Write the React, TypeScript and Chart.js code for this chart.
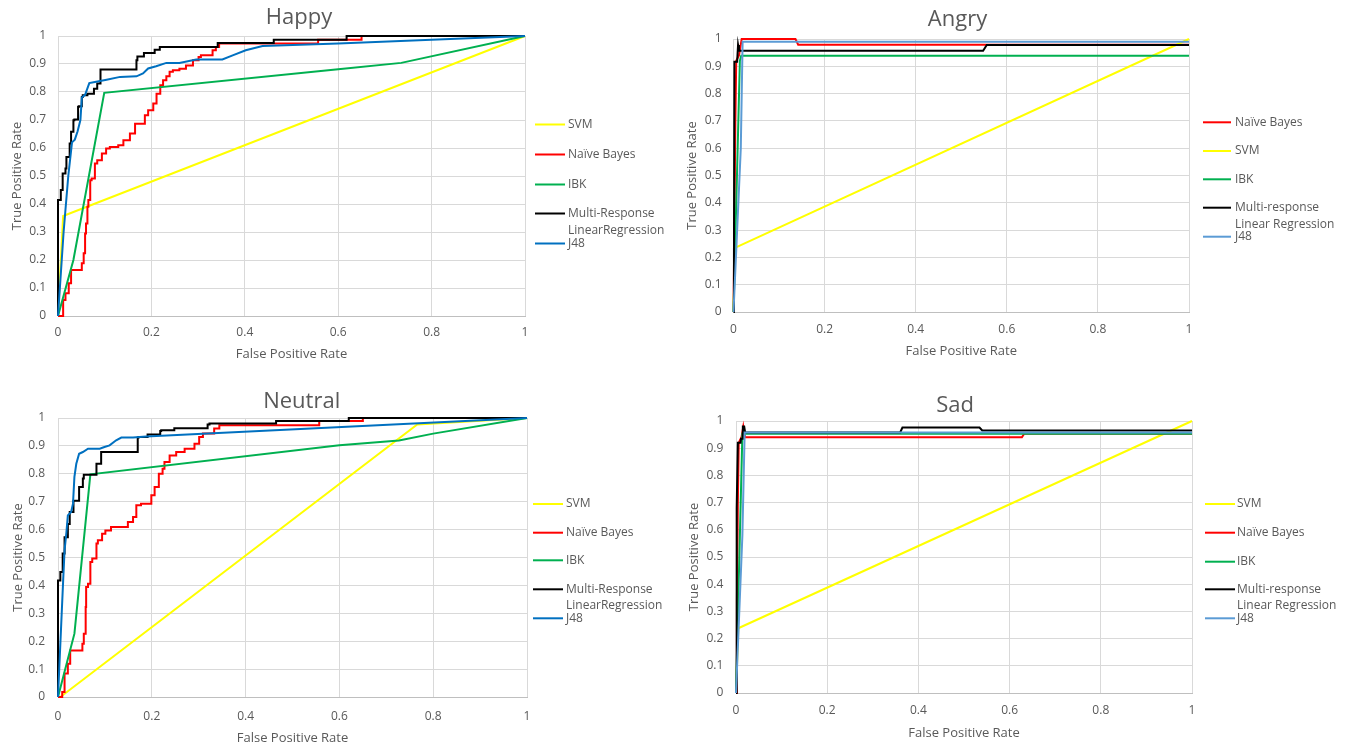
import React, { useEffect, useRef } from "react";
import { Chart, registerables } from "chart.js";
Chart.register(...registerables);

type Pt = [number, number];

const FAMILY = "'Open Sans', 'Liberation Sans', sans-serif";
const TEXT = "#595959";

// ---------- tick labels ----------
const X_TICK_STEP = 0.2;
const Y_TICK_STEP = 0.1;
const X_TITLE = "False Positive Rate";
const Y_TITLE = "True Positive Rate";

// ---------- Happy ----------
const happySvm: Pt[] = [[0, 0], [0.011, 0.357], [1, 1]];
const happyNb: Pt[] = [[0, 0], [0.011, 0], [0.016, 0.057], [0.023, 0.081], [0.028, 0.117], [0.035, 0.164], [0.051, 0.164], [0.055, 0.188], [0.058, 0.224], [0.06, 0.295], [0.063, 0.33], [0.065, 0.39], [0.069, 0.414], [0.072, 0.485], [0.079, 0.491], [0.084, 0.545], [0.094, 0.556], [0.103, 0.58], [0.111, 0.598], [0.129, 0.604], [0.14, 0.61], [0.154, 0.628], [0.165, 0.652], [0.175, 0.687], [0.186, 0.687], [0.193, 0.717], [0.204, 0.735], [0.211, 0.759], [0.219, 0.794], [0.225, 0.824], [0.232, 0.842], [0.239, 0.856], [0.246, 0.872], [0.26, 0.878], [0.274, 0.883], [0.289, 0.895], [0.301, 0.913], [0.306, 0.925], [0.331, 0.931], [0.338, 0.949], [0.345, 0.961], [0.354, 0.973], [0.557, 0.973], [0.557, 0.987], [0.65, 0.987], [0.65, 1], [1, 1]];
const happyIbk: Pt[] = [[0, 0], [0.033, 0.2], [0.099, 0.797], [0.6, 0.881], [0.735, 0.904], [1, 1]];
const happyMr: Pt[] = [[0, 0], [0.001, 0.414], [0.006, 0.414], [0.006, 0.45], [0.01, 0.45], [0.01, 0.509], [0.016, 0.509], [0.016, 0.527], [0.018, 0.527], [0.018, 0.568], [0.025, 0.568], [0.028, 0.616], [0.033, 0.658], [0.035, 0.699], [0.043, 0.702], [0.045, 0.747], [0.051, 0.749], [0.053, 0.782], [0.063, 0.788], [0.069, 0.794], [0.077, 0.794], [0.079, 0.812], [0.084, 0.812], [0.087, 0.83], [0.091, 0.83], [0.094, 0.88], [0.168, 0.88], [0.17, 0.913], [0.174, 0.927], [0.184, 0.927], [0.187, 0.939], [0.207, 0.939], [0.218, 0.951], [0.246, 0.961], [0.342, 0.961], [0.342, 0.975], [0.462, 0.975], [0.462, 0.987], [0.618, 0.987], [0.618, 1], [1, 1]];
const happyJ48: Pt[] = [[0, 0], [0.012, 0.3], [0.022, 0.5], [0.03, 0.62], [0.036, 0.63], [0.042, 0.66], [0.048, 0.7], [0.051, 0.78], [0.058, 0.79], [0.067, 0.832], [0.079, 0.836], [0.104, 0.844], [0.133, 0.854], [0.168, 0.856], [0.182, 0.866], [0.193, 0.884], [0.21, 0.892], [0.232, 0.904], [0.26, 0.904], [0.296, 0.916], [0.352, 0.916], [0.374, 0.931], [0.402, 0.949], [0.438, 0.964], [0.6, 0.973], [1, 1]];

// ---------- Angry ----------
const angryNb: Pt[] = [[0, 0], [0.002, 0.33], [0.004, 0.69], [0.006, 0.92], [0.012, 0.94], [0.018, 1], [0.136, 1], [0.142, 0.979], [1, 0.979]];
const angrySvm: Pt[] = [[0, 0], [0.003, 0.235], [1, 1]];
const angryIbk: Pt[] = [[0, 0], [0.014, 0.92], [0.017, 0.939], [1, 0.939]];
const angryMr: Pt[] = [[0, 0], [0.001, 0.2], [0.002, 0.917], [0.008, 0.917], [0.01, 0.978], [0.012, 0.957], [0.548, 0.957], [0.556, 0.978], [1, 0.978]];
const angryJ48: Pt[] = [[0, 0], [0.016, 0.6], [0.02, 0.99], [1, 0.99]];

// ---------- Neutral ----------
const neutralSvm: Pt[] = [[0.005, 0], [0.766, 0.977], [1, 1]];
const neutralNb: Pt[] = [[0, 0], [0.009, 0], [0.014, 0.018], [0.021, 0.084], [0.026, 0.119], [0.032, 0.167], [0.052, 0.167], [0.055, 0.191], [0.059, 0.227], [0.06, 0.323], [0.064, 0.394], [0.069, 0.406], [0.073, 0.484], [0.082, 0.496], [0.085, 0.55], [0.094, 0.562], [0.101, 0.585], [0.113, 0.597], [0.149, 0.609], [0.16, 0.627], [0.167, 0.645], [0.177, 0.687], [0.199, 0.693], [0.206, 0.723], [0.215, 0.753], [0.223, 0.8], [0.227, 0.818], [0.238, 0.842], [0.252, 0.866], [0.27, 0.878], [0.291, 0.89], [0.301, 0.908], [0.309, 0.932], [0.333, 0.944], [0.344, 0.962], [0.352, 0.974], [0.557, 0.974], [0.557, 0.989], [0.65, 0.989], [0.65, 1], [1, 1]];
const neutralIbk: Pt[] = [[0, 0], [0.035, 0.227], [0.069, 0.798], [0.6, 0.902], [0.727, 0.919], [0.8, 0.944], [1, 1]];
const neutralMr: Pt[] = [[0, 0], [0.001, 0.418], [0.005, 0.418], [0.005, 0.448], [0.01, 0.448], [0.01, 0.514], [0.014, 0.514], [0.014, 0.573], [0.021, 0.573], [0.025, 0.62], [0.028, 0.663], [0.033, 0.663], [0.038, 0.703], [0.045, 0.703], [0.046, 0.753], [0.053, 0.753], [0.055, 0.783], [0.062, 0.797], [0.082, 0.797], [0.087, 0.836], [0.092, 0.836], [0.096, 0.878], [0.17, 0.878], [0.172, 0.93], [0.191, 0.932], [0.193, 0.941], [0.218, 0.941], [0.22, 0.953], [0.248, 0.956], [0.25, 0.963], [0.319, 0.963], [0.323, 0.977], [0.465, 0.98], [0.467, 0.989], [0.62, 0.989], [0.622, 1], [1, 1]];
const neutralJ48: Pt[] = [[0, 0], [0.011, 0.418], [0.014, 0.526], [0.018, 0.591], [0.021, 0.651], [0.028, 0.663], [0.032, 0.693], [0.035, 0.789], [0.039, 0.836], [0.045, 0.872], [0.053, 0.878], [0.064, 0.89], [0.089, 0.89], [0.099, 0.896], [0.11, 0.902], [0.124, 0.92], [0.135, 0.93], [0.16, 0.93], [0.188, 0.934], [1, 1]];

// ---------- Sad ----------
const sadSvm: Pt[] = [[0, 0], [0.005, 0.238], [1, 1]];
const sadNb: Pt[] = [[0, 0], [0.002, 0.336], [0.004, 0.69], [0.006, 0.92], [0.012, 0.94], [0.016, 0.98], [0.02, 0.94], [0.627, 0.94], [0.632, 0.953], [1, 0.953]];
const sadIbk: Pt[] = [[0, 0], [0.014, 0.953], [1, 0.953]];
const sadMr: Pt[] = [[0, 0], [0.001, 0.2], [0.002, 0.68], [0.004, 0.92], [0.01, 0.92], [0.011, 0.935], [0.014, 0.935], [0.015, 0.98], [0.018, 0.98], [0.02, 0.958], [0.36, 0.958], [0.365, 0.976], [0.534, 0.976], [0.54, 0.965], [1, 0.965]];
const sadJ48: Pt[] = [[0, 0], [0.014, 0.58], [0.019, 0.958], [1, 0.958]];

// ---------- styles ----------
const C_SVM = "#ffff00";
const C_NB = "#ff0000";
const C_IBK = "#00b050";
const C_MR = "#000000";
const C_J48_DARK = "#0070c0";
const C_J48_LIGHT = "#5b9bd5";

interface SeriesDef { label: string[]; data: Pt[]; color: string; stepped?: boolean }
interface PanelDef {
  left: number; top: number; width: number; height: number;
  title: string; titleX: number; titleBaseline: number;
  area: { left: number; top: number; right: number; bottom: number };
  yTitlePad: number; yTickPad: number; xTickPad: number; xTitlePad: number;
  legend: { lineX: number; lineLen: number; textX: number; ys: number[] };
  series: SeriesDef[];
}

const PANELS: PanelDef[] = [
  {
    left: 0, top: 0, width: 676, height: 374,
    title: "Happy", titleX: 299, titleBaseline: 24,
    area: { left: 58, top: 36, right: 525, bottom: 316 },
    yTitlePad: 9, yTickPad: 12, xTickPad: 9, xTitlePad: 12,
    legend: { lineX: 535, lineLen: 30, textX: 568, ys: [124.5, 154.5, 184.5, 213.5, 243.5] },
    series: [
      { label: ["SVM"], data: happySvm, color: C_SVM },
      { label: ["Naïve Bayes"], data: happyNb, color: C_NB, stepped: true },
      { label: ["IBK"], data: happyIbk, color: C_IBK },
      { label: ["Multi-Response", "LinearRegression"], data: happyMr, color: C_MR, stepped: true },
      { label: ["J48"], data: happyJ48, color: C_J48_DARK },
    ],
  },
  {
    left: 676, top: 0, width: 676, height: 374,
    title: "Angry", titleX: 281.5, titleBaseline: 26,
    area: { left: 57.5, top: 39, right: 513, bottom: 312 },
    yTitlePad: 8.7, yTickPad: 12, xTickPad: 10, xTitlePad: 15,
    legend: { lineX: 527, lineLen: 28, textX: 559, ys: [122.3, 151, 179.3, 207.7, 236.7] },
    series: [
      { label: ["Naïve Bayes"], data: angryNb, color: C_NB },
      { label: ["SVM"], data: angrySvm, color: C_SVM },
      { label: ["IBK"], data: angryIbk, color: C_IBK },
      { label: ["Multi-response", "Linear Regression"], data: angryMr, color: C_MR },
      { label: ["J48"], data: angryJ48, color: C_J48_LIGHT },
    ],
  },
  {
    left: 0, top: 374, width: 676, height: 374,
    title: "Neutral", titleX: 301.7, titleBaseline: 34.3,
    area: { left: 58, top: 44, right: 527, bottom: 323 },
    yTitlePad: 10, yTickPad: 13, xTickPad: 12, xTitlePad: 2,
    legend: { lineX: 533, lineLen: 30, textX: 566, ys: [130, 158.7, 186.3, 215.3, 244.3] },
    series: [
      { label: ["SVM"], data: neutralSvm, color: C_SVM },
      { label: ["Naïve Bayes"], data: neutralNb, color: C_NB, stepped: true },
      { label: ["IBK"], data: neutralIbk, color: C_IBK },
      { label: ["Multi-Response", "LinearRegression"], data: neutralMr, color: C_MR, stepped: true },
      { label: ["J48"], data: neutralJ48, color: C_J48_DARK },
    ],
  },
  {
    left: 676, top: 374, width: 676, height: 374,
    title: "Sad", titleX: 279, titleBaseline: 38.3,
    area: { left: 60, top: 47, right: 516, bottom: 319 },
    yTitlePad: 10, yTickPad: 12.7, xTickPad: 10.5, xTitlePad: 7,
    legend: { lineX: 529, lineLen: 30, textX: 561, ys: [130, 158.7, 187.7, 215.3, 244.3] },
    series: [
      { label: ["SVM"], data: sadSvm, color: C_SVM },
      { label: ["Naïve Bayes"], data: sadNb, color: C_NB },
      { label: ["IBK"], data: sadIbk, color: C_IBK },
      { label: ["Multi-response", "Linear Regression"], data: sadMr, color: C_MR },
      { label: ["J48"], data: sadJ48, color: C_J48_LIGHT },
    ],
  },
];

const fmt = (v: any) => String(Math.round(Number(v) * 10) / 10);

function Panel({ p }: { p: PanelDef }) {
  const ref = useRef<HTMLCanvasElement | null>(null);
  useEffect(() => {
    if (!ref.current) return;
    const decor = {
      id: "decor",
      afterDraw(chart: any) {
        const ctx = chart.ctx as CanvasRenderingContext2D;
        ctx.save();
        ctx.fillStyle = TEXT;
        ctx.font = `22px ${FAMILY}`;
        ctx.textAlign = "center";
        ctx.textBaseline = "alphabetic";
        ctx.fillText(p.title, p.titleX, p.titleBaseline);
        ctx.font = `12px ${FAMILY}`;
        ctx.textAlign = "left";
        ctx.textBaseline = "middle";
        p.series.forEach((s, i) => {
          const y = p.legend.ys[i];
          ctx.strokeStyle = s.color;
          ctx.lineWidth = 2;
          ctx.beginPath();
          ctx.moveTo(p.legend.lineX, y);
          ctx.lineTo(p.legend.lineX + p.legend.lineLen, y);
          ctx.stroke();
          s.label.forEach((line, j) => ctx.fillText(line, p.legend.textX, y + j * 16.7));
        });
        ctx.restore();
      },
    };
    const n = p.series.length;
    const chart = new Chart(ref.current, {
      type: "line",
      data: {
        datasets: p.series.map((s, i) => ({
          label: s.label.join(" "),
          data: s.data.map(([x, y]) => ({ x, y })),
          borderColor: s.color,
          backgroundColor: s.color,
          borderWidth: 2,
          pointRadius: 0,
          pointHoverRadius: 0,
          fill: false,
          tension: 0,
          stepped: s.stepped ? "after" : false,
          order: n - 1 - i,
          clip: 4,
        })),
      } as any,
      options: {
        animation: false,
        responsive: false,
        maintainAspectRatio: false,
        events: [],
        layout: {
          autoPadding: false,
          padding: { left: 0, top: p.area.top, right: p.width - p.area.right, bottom: 0 },
        },
        plugins: { legend: { display: false }, title: { display: false }, tooltip: { enabled: false } },
        scales: {
          x: {
            type: "linear", min: 0, max: 1, position: "bottom",
            afterFit: (s: any) => { s.height = p.height - p.area.bottom; },
            ticks: { stepSize: X_TICK_STEP, padding: p.xTickPad, color: TEXT, font: { family: FAMILY, size: 12 }, maxRotation: 0, autoSkip: false, callback: fmt },
            grid: { color: "#d9d9d9", drawTicks: false, lineWidth: 1 },
            border: { color: "#bfbfbf" },
            title: { display: true, text: X_TITLE, color: TEXT, font: { family: FAMILY, size: 13 }, padding: { top: 0, bottom: p.xTitlePad } },
          },
          y: {
            type: "linear", min: 0, max: 1, position: "left",
            afterFit: (s: any) => { s.width = p.area.left; },
            ticks: { stepSize: Y_TICK_STEP, padding: p.yTickPad, color: TEXT, font: { family: FAMILY, size: 12 }, autoSkip: false, callback: fmt },
            grid: { color: "#d9d9d9", drawTicks: false, lineWidth: 1 },
            border: { color: "#d9d9d9" },
            title: { display: true, text: Y_TITLE, color: TEXT, font: { family: FAMILY, size: 13 }, padding: { top: p.yTitlePad, bottom: 0 } },
          },
        },
      } as any,
      plugins: [decor],
    });
    return () => chart.destroy();
  }, [p]);
  return (
    <canvas
      ref={ref}
      width={p.width}
      height={p.height}
      style={{ position: "absolute", left: p.left, top: p.top, width: p.width, height: p.height }}
    />
  );
}

export default function App() {
  return (
    <div style={{ position: "absolute", left: 0, top: 0, width: 1352, height: 748, background: "#ffffff", overflow: "hidden" }}>
      {PANELS.map((p) => (
        <Panel key={p.title} p={p} />
      ))}
    </div>
  );
}
